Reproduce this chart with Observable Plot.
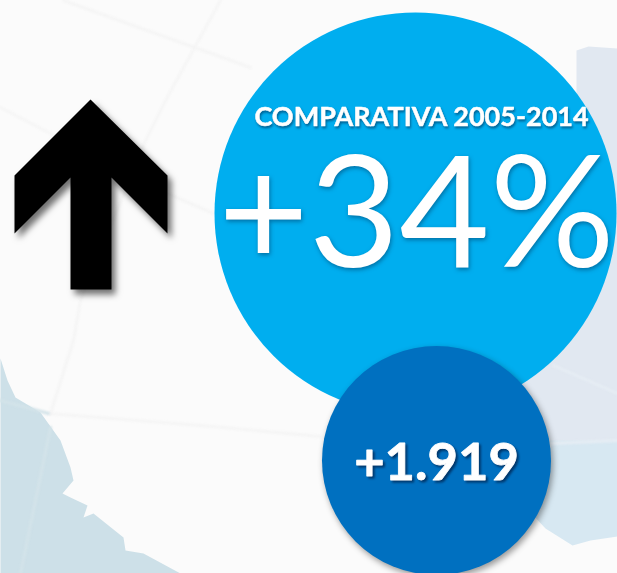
<!DOCTYPE html>
<html>
<head>
<meta charset="utf-8">
<script src="https://cdn.jsdelivr.net/npm/d3@7"></script>
<script src="https://cdn.jsdelivr.net/npm/@observablehq/plot@0.6"></script>
<style>html,body{margin:0;padding:0;background:#fbfbfb;overflow:hidden}</style>
</head>
<body>
<div id="chart"></div>
<script>
const title = ["COMPARATIVA 2005-2014"];
const percentLabel = ["+34%"];
const countLabel = ["+1.919"];

const arrowX = [90, 167, 167, 111, 111, 70, 70, 14, 14];
const arrowY = [99, 175, 233, 177, 289, 289, 177, 233, 175];
const seaX = [0, 7, 15, 40, 60, 70, 73, 62, 70, 87, 83, 93, 123, 125, 143, 180, 0];
const seaY = [358, 380, 397, 412, 440, 467, 480, 493, 497, 505, 517, 513, 537, 550, 553, 573, 573];
const landUpperX = [576, 588, 617, 617, 500, 500, 576];
const landUpperY = [50, 46, 48, 445, 445, 300, 100];
const landLowerX = [500, 617, 617, 590, 572, 545, 500];
const landLowerY = [440, 440, 536, 540, 545, 528, 480];

const pts = (xs, ys) => xs.map((x, i) => ({x, y: ys[i]}));
const faintLines = [
  [[63,0],[250,67]],
  [[0,107],[50,133],[167,193],[213,213]],
  [[220,0],[165,100],[145,140],[80,300],[73,340],[50,413]],
  [[48,413],[200,425],[320,436]]
];
const seaLines = [
  [[0,400],[48,413]],
  [[50,427],[20,573]]
];
const landLines = [
  [[553,365],[617,393]],
  [[550,443],[617,440]]
];
const W = 617, H = 573;
const lineMark = (g, stroke, strokeWidth) => Plot.line(g.map(([x, y]) => ({x, y})), {x: "x", y: "y", stroke, strokeWidth, imageFilter: "blur(0.8px)"});

document.getElementById("chart").append(Plot.plot({
  width: W, height: H,
  margin: 0,
  x: {domain: [0, W], range: [0, W], axis: null},
  y: {domain: [0, H], range: [0, H], axis: null},
  style: {background: "#fbfbfb", display: "block"},
  marks: [
    Plot.line(pts(seaX, seaY), {x: "x", y: "y", fill: "#cde0e8", stroke: null, imageFilter: "blur(0.7px)"}),
    Plot.line(pts(landUpperX, landUpperY), {x: "x", y: "y", fill: "#e1e8f1", stroke: null, imageFilter: "blur(0.7px)"}),
    Plot.line(pts(landLowerX, landLowerY), {x: "x", y: "y", fill: "#d7e8f2", stroke: null, imageFilter: "blur(0.7px)"}),
    ...faintLines.map(g => lineMark(g, "#f4f4f4", 2.5)),
    ...seaLines.map(g => lineMark(g, "#d3e3e9", 3)),
    ...landLines.map(g => lineMark(g, "#e6edf4", 3)),
    Plot.dot(percentLabel, {x: () => 415, y: () => 213, r: 201, fill: "#00aeef", stroke: null}),
    Plot.dot(countLabel, {x: () => 436, y: () => 460, r: 114.5, fill: "#0070c0", stroke: null, imageFilter: "drop-shadow(2px 3px 3px rgba(0,0,0,.4))"}),
    Plot.line(pts(arrowX, arrowY), {x: "x", y: "y", fill: "#000", stroke: null, imageFilter: "drop-shadow(4px 5px 3px rgba(0,0,0,.55))"}),
    Plot.text(title, {x: () => 421, y: () => 117, text: d => d, fill: "#fff", stroke: "#fff", strokeWidth: 0.5, fontFamily: "Lato", fontWeight: 700, fontSize: 27, textAnchor: "middle", lineAnchor: "middle", imageFilter: "drop-shadow(1px 2px 1px rgba(0,50,90,.6))"}),
    Plot.text(percentLabel, {x: () => 416, y: () => 217, text: d => d, fill: "#fff", fontFamily: "Lato", fontWeight: 400, fontSize: 156, textAnchor: "middle", lineAnchor: "middle", imageFilter: "drop-shadow(1px 2px 2px rgba(0,50,90,.5))"}),
    Plot.text(countLabel, {x: () => 436, y: () => 463, text: d => d, fill: "#fff", stroke: "#fff", strokeWidth: 0.8, fontFamily: "Lato", fontWeight: 700, fontSize: 52.5, textAnchor: "middle", lineAnchor: "middle", imageFilter: "drop-shadow(2px 2px 1px rgba(0,30,70,.7))"})
  ]
}));
</script>
</body>
</html>
